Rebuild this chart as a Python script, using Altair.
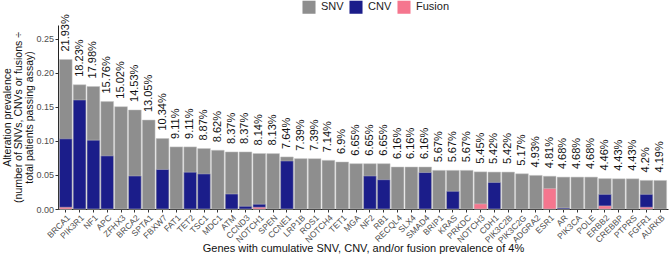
import altair as alt
import pandas as pd

# Genes ordered by cumulative alteration prevalence (%)
genes = ["BRCA1", "PIK3R1", "NF1", "APC", "ZFHX3", "BRCA2", "SPTA1", "FBXW7", "FAT1", "TET2",
         "TSC1", "MDC1", "ATM", "CCND3", "NOTCH1", "SPEN", "CCNE1", "LRP1B", "ROS1", "NOTCH4",
         "TET1", "MGA", "NF2", "RB1", "RECQL4", "SLX4", "SMAD4", "BRIP1", "KRAS", "PRKDC",
         "NOTCH3", "CDH1", "PIK3C2B", "PIK3C2G", "ADGRA2", "ESR1", "AR", "PIK3CA", "POLE", "ERBB2",
         "CREBBP", "PTPRS", "FGFR1", "AURKB"]

total_pct = [21.93, 18.23, 17.98, 15.76, 15.02, 14.53, 13.05, 10.34, 9.11, 9.11,
             8.87, 8.62, 8.37, 8.37, 8.14, 8.13, 7.64, 7.39, 7.39, 7.14,
             6.9, 6.65, 6.65, 6.65, 6.16, 6.16, 6.16, 5.67, 5.67, 5.67,
             5.45, 5.42, 5.42, 5.17, 4.93, 4.81, 4.68, 4.68, 4.68, 4.46,
             4.43, 4.43, 4.2, 4.19]

cnv_pct = [10.3, 16.0, 10.1, 7.8, 0, 4.85, 0, 5.8, 0, 5.4,
           5.15, 0, 2.2, 0.4, 0.7, 0, 7.05, 0, 0, 0,
           0, 0, 4.85, 4.3, 0, 0, 5.35, 0, 2.6, 0,
           0, 3.9, 0, 0, 0, 0, 0.15, 0, 0, 2.15,
           0, 0, 2.15, 0]

fusion_pct = [0.25, 0, 0, 0, 0, 0, 0, 0, 0, 0,
              0, 0, 0, 0, 0.25, 0, 0, 0, 0, 0,
              0, 0, 0, 0, 0, 0, 0, 0, 0, 0,
              0.75, 0, 0, 0, 0, 3.0, 0, 0, 0, 0.45,
              0, 0, 0.25, 0]

y_ticks = [0, 0.05, 0.10, 0.15, 0.20, 0.25]

series = ["SNV", "CNV", "Fusion"]
colors = ["#8E8E8E", "#1B1D8A", "#F5768E"]

# Overlaid bars from zero: cumulative (grey), CNV (navy), fusion (pink)
rows = []
for name, values in zip(series, [total_pct, cnv_pct, fusion_pct]):
    for g, v in zip(genes, values):
        if v > 0:
            rows.append({"gene": g, "type": name, "value": v / 100})
bars_df = pd.DataFrame(rows)

labels_df = pd.DataFrame({
    "gene": genes,
    "value": [v / 100 for v in total_pct],
    "label": [f"{v:g}%" for v in total_pct],
})

FONT = "Liberation Sans"

x_scale = alt.Scale(paddingInner=0.08, paddingOuter=0.1)
y_scale = alt.Scale(domain=[0, 0.27], nice=False, zero=True)

x_axis = alt.Axis(title="Genes with cumulative SNV, CNV, and/or fusion prevalence of 4%",
                  labelAngle=-45, labelAlign="right", labelBaseline="top",
                  labelFontSize=8.5, labelColor="#4D4D4D", labelPadding=1,
                  tickSize=3, tickColor="#333333", domainColor="#222222",
                  titleFontSize=11, titleFontWeight="normal", titleColor="#111111",
                  titleY=42, titleBaseline="alphabetic")

y_axis = alt.Axis(title=["Alteration prevalence",
                         "(number of SNVs, CNVs or fusions ÷",
                         "total patients passing assay)"],
                  values=y_ticks, format=".2f", labelOverlap=False,
                  labelFontSize=9, labelColor="#4D4D4D", labelPadding=1.5,
                  tickSize=3, tickColor="#333333", domainColor="#222222",
                  grid=False, titleFontSize=10.5, titleFontWeight="normal",
                  titleColor="#111111", titleLineHeight=11, titlePadding=1)

bars = alt.Chart(bars_df).mark_bar(stroke="#C4C4C4", strokeWidth=0.5).encode(
    x=alt.X("gene:N", sort=genes, scale=x_scale, axis=x_axis),
    y=alt.Y("value:Q", stack=None, scale=y_scale, axis=y_axis),
    color=alt.Color("type:N", scale=alt.Scale(domain=series, range=colors),
                    legend=alt.Legend(title=None, orient="none", direction="horizontal",
                                      legendX=244, legendY=-25, symbolType="square",
                                      symbolSize=170, symbolStrokeWidth=0,
                                      labelFontSize=11, labelColor="#222222", labelFont=FONT,
                                      labelOffset=5, columnPadding=5)),
)

labels = alt.Chart(labels_df).mark_text(
    angle=270, align="left", baseline="middle", dx=8,
    fontSize=11, font=FONT, color="#111111"
).encode(
    x=alt.X("gene:N", sort=genes, scale=x_scale, axis=x_axis),
    y=alt.Y("value:Q", scale=y_scale, axis=y_axis),
    text="label:N",
)

chart = alt.layer(bars, labels).properties(
    width=610, height=184,
    autosize=alt.AutoSizeParams(type="none"),
    padding={"left": 58, "top": 25, "right": 1, "bottom": 49},
).configure(font=FONT).configure_view(stroke=None)

chart.save("out.html", embed_options={"renderer": "svg", "actions": False})
